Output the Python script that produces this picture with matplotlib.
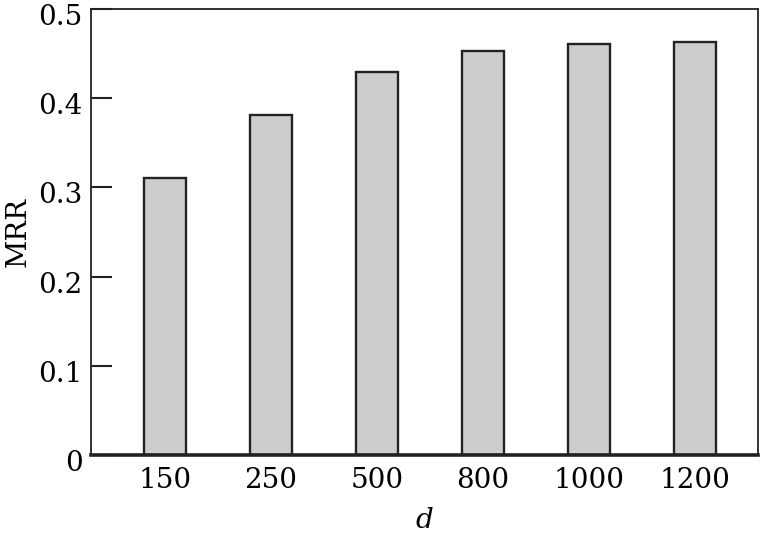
import matplotlib
matplotlib.use('Agg')
import matplotlib.pyplot as plt
import matplotlib.transforms as mtransforms
import numpy as np

categories = ['150', '250', '500', '800', '1000', '1200']
mrr = [0.310, 0.381, 0.429, 0.453, 0.461, 0.463]
yticks = [0, 0.1, 0.2, 0.3, 0.4, 0.5]
ytick_labels = ['0', '0.1', '0.2', '0.3', '0.4', '0.5']

plt.rcParams['font.family'] = ['DejaVu Serif']

fig = plt.figure(figsize=(7.63, 5.34), dpi=100)
ax = fig.add_axes([91 / 763, 1 - 455 / 534, (758 - 91) / 763, (455 - 9) / 534])

x = np.arange(len(categories))
ax.bar(x, mrr, width=0.4, color='#cdcdcd', edgecolor='#222222', linewidth=1.7)

ax.set_xlim(-0.698, 5.594)
ax.set_ylim(0, 0.5)
ax.set_xticks(x)
ax.set_xticklabels(categories, fontsize=20)
ax.set_yticks(yticks)
ax.set_yticklabels(ytick_labels, fontsize=20)
ax.tick_params(axis='x', length=0, pad=9)
ax.tick_params(axis='y', direction='in', length=15, width=1.5, color='#222222', pad=6)

# labels in the reference sit a few pixels below their ticks
shift = mtransforms.ScaledTranslation(0, -4 / 72, fig.dpi_scale_trans)
for lab in ax.get_yticklabels():
    lab.set_transform(lab.get_transform() + shift)

for side in ['left', 'right', 'top']:
    ax.spines[side].set_linewidth(1.3)
    ax.spines[side].set_color('#222222')
ax.spines['bottom'].set_linewidth(2.6)
ax.spines['bottom'].set_color('#222222')

ax.set_ylabel('MRR', fontsize=20, labelpad=5)
ax.set_xlabel('d', fontsize=20, style='italic', labelpad=9)

fig.savefig('out.png', dpi=100)
